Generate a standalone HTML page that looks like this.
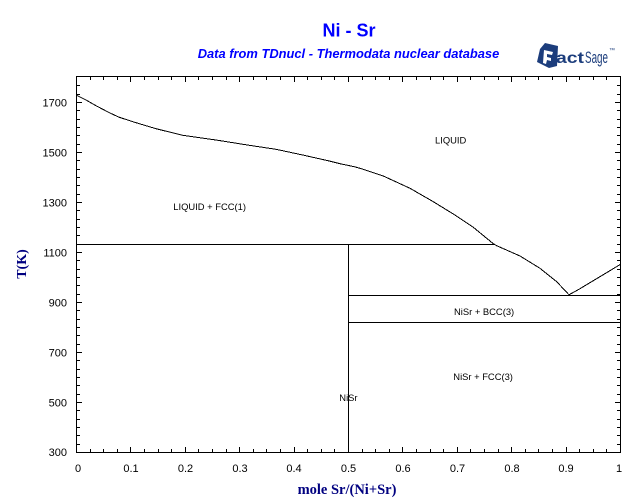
<!DOCTYPE html>
<html>
<head>
<meta charset="utf-8">
<style>
  html, body { margin: 0; padding: 0; background: #ffffff; }
  body { width: 640px; height: 504px; overflow: hidden; }
  svg { display: block; }
  .tick { font-family: "Liberation Sans", Arial, sans-serif; font-size: 11px; fill: #000; }
  .lbl { font-family: "Liberation Sans", Arial, sans-serif; font-size: 9.4px; fill: #000; }
</style>
</head>
<body>
<svg width="640" height="504" viewBox="0 0 640 504" xmlns="http://www.w3.org/2000/svg">
  <rect x="0" y="0" width="640" height="504" fill="#ffffff"/>

  <!-- Titles -->
  <text x="349" y="36.5" text-anchor="middle" font-family="Liberation Sans, Arial, sans-serif" font-weight="bold" font-size="18" fill="#0000ff">Ni - Sr</text>
  <text x="348.5" y="58" text-anchor="middle" font-family="Liberation Sans, Arial, sans-serif" font-weight="bold" font-style="italic" font-size="12.9" fill="#0000ff">Data from TDnucl - Thermodata nuclear database</text>

  <!-- FactSage logo -->
  <g>
    <polygon points="545,43 558,46 557,66 549,68 537,62 540,49" fill="#1c3d7c"/>
    <path d="M544,50 L553,52 L552,55 L547,54 L547,57 L551,58 L551,61 L547,60 L546,64 L543,63 Z" fill="#ffffff"/>
    <text x="556" y="63" font-family="Liberation Sans, Arial, sans-serif" font-weight="bold" font-size="16" fill="#1c3d7c" textLength="28" lengthAdjust="spacingAndGlyphs">act</text>
    <text x="585" y="63" font-family="Liberation Sans, Arial, sans-serif" font-size="17" fill="#1c3d7c" textLength="23" lengthAdjust="spacingAndGlyphs">Sage</text>
    <text x="609" y="52" font-family="Liberation Sans, Arial, sans-serif" font-size="6" fill="#1c3d7c">™</text>
  </g>

  <!-- Ticks as filled rectangles -->
  <g fill="#000" stroke="none" shape-rendering="crispEdges">
    <!-- bottom minor -->
    <path d="M90 449h1v3h-1zM103 449h1v3h-1zM117 449h1v3h-1zM144 449h1v3h-1zM158 449h1v3h-1zM171 449h1v3h-1zM198 449h1v3h-1zM212 449h1v3h-1zM226 449h1v3h-1zM253 449h1v3h-1zM266 449h1v3h-1zM280 449h1v3h-1zM307 449h1v3h-1zM321 449h1v3h-1zM334 449h1v3h-1zM362 449h1v3h-1zM375 449h1v3h-1zM389 449h1v3h-1zM416 449h1v3h-1zM430 449h1v3h-1zM443 449h1v3h-1zM470 449h1v3h-1zM484 449h1v3h-1zM498 449h1v3h-1zM525 449h1v3h-1zM538 449h1v3h-1zM552 449h1v3h-1zM579 449h1v3h-1zM593 449h1v3h-1zM606 449h1v3h-1z"/>
    <!-- bottom major -->
    <path d="M130 447h1v5h-1zM185 447h1v5h-1zM239 447h1v5h-1zM294 447h1v5h-1zM348 447h1v5h-1zM402 447h1v5h-1zM457 447h1v5h-1zM511 447h1v5h-1zM566 447h1v5h-1z"/>
    <!-- top minor -->
    <path d="M90 77h1v3h-1zM103 77h1v3h-1zM117 77h1v3h-1zM144 77h1v3h-1zM158 77h1v3h-1zM171 77h1v3h-1zM198 77h1v3h-1zM212 77h1v3h-1zM226 77h1v3h-1zM253 77h1v3h-1zM266 77h1v3h-1zM280 77h1v3h-1zM307 77h1v3h-1zM321 77h1v3h-1zM334 77h1v3h-1zM362 77h1v3h-1zM375 77h1v3h-1zM389 77h1v3h-1zM416 77h1v3h-1zM430 77h1v3h-1zM443 77h1v3h-1zM470 77h1v3h-1zM484 77h1v3h-1zM498 77h1v3h-1zM525 77h1v3h-1zM538 77h1v3h-1zM552 77h1v3h-1zM579 77h1v3h-1zM593 77h1v3h-1zM606 77h1v3h-1z"/>
    <!-- top major -->
    <path d="M130 77h1v5h-1zM185 77h1v5h-1zM239 77h1v5h-1zM294 77h1v5h-1zM348 77h1v5h-1zM402 77h1v5h-1zM457 77h1v5h-1zM511 77h1v5h-1zM566 77h1v5h-1z"/>
    <!-- left minor -->
    <path d="M77 444h3v1h-3zM77 435h3v1h-3zM77 427h3v1h-3zM77 419h3v1h-3zM77 410h3v1h-3zM77 394h3v1h-3zM77 385h3v1h-3zM77 377h3v1h-3zM77 369h3v1h-3zM77 360h3v1h-3zM77 344h3v1h-3zM77 335h3v1h-3zM77 327h3v1h-3zM77 319h3v1h-3zM77 310h3v1h-3zM77 294h3v1h-3zM77 285h3v1h-3zM77 277h3v1h-3zM77 269h3v1h-3zM77 260h3v1h-3zM77 244h3v1h-3zM77 235h3v1h-3zM77 227h3v1h-3zM77 219h3v1h-3zM77 210h3v1h-3zM77 194h3v1h-3zM77 185h3v1h-3zM77 177h3v1h-3zM77 169h3v1h-3zM77 160h3v1h-3zM77 144h3v1h-3zM77 135h3v1h-3zM77 127h3v1h-3zM77 119h3v1h-3zM77 110h3v1h-3zM77 94h3v1h-3zM77 85h3v1h-3z"/>
    <!-- left major -->
    <path d="M77 402h5v1h-5zM77 352h5v1h-5zM77 302h5v1h-5zM77 252h5v1h-5zM77 202h5v1h-5zM77 152h5v1h-5zM77 102h5v1h-5z"/>
    <!-- right minor -->
    <path d="M617 444h3v1h-3zM617 435h3v1h-3zM617 427h3v1h-3zM617 419h3v1h-3zM617 410h3v1h-3zM617 394h3v1h-3zM617 385h3v1h-3zM617 377h3v1h-3zM617 369h3v1h-3zM617 360h3v1h-3zM617 344h3v1h-3zM617 335h3v1h-3zM617 327h3v1h-3zM617 319h3v1h-3zM617 310h3v1h-3zM617 294h3v1h-3zM617 285h3v1h-3zM617 277h3v1h-3zM617 269h3v1h-3zM617 260h3v1h-3zM617 244h3v1h-3zM617 235h3v1h-3zM617 227h3v1h-3zM617 219h3v1h-3zM617 210h3v1h-3zM617 194h3v1h-3zM617 185h3v1h-3zM617 177h3v1h-3zM617 169h3v1h-3zM617 160h3v1h-3zM617 144h3v1h-3zM617 135h3v1h-3zM617 127h3v1h-3zM617 119h3v1h-3zM617 110h3v1h-3zM617 94h3v1h-3zM617 85h3v1h-3z"/>
    <!-- right major -->
    <path d="M615 402h5v1h-5zM615 352h5v1h-5zM615 302h5v1h-5zM615 252h5v1h-5zM615 202h5v1h-5zM615 152h5v1h-5zM615 102h5v1h-5z"/>
  </g>

  <g shape-rendering="crispEdges" fill="none" stroke="#000" stroke-width="1">
    <!-- Plot frame -->
    <rect x="76.5" y="76.5" width="544" height="376"/>

    <!-- Phase boundaries -->
    <line x1="76.5" y1="244.5" x2="494" y2="244.5"/>
    <line x1="348.5" y1="244.5" x2="348.5" y2="452.5"/>
    <line x1="348.5" y1="295.5" x2="620.5" y2="295.5"/>
    <line x1="348.5" y1="322.5" x2="620.5" y2="322.5"/>

    <!-- Liquidus -->
    <polyline points="76.5,95.3 86,100 96,105.7 109.3,112.7 119.3,117.3 136,122.7 156,128.7 182.7,135.3 216,140 249.3,145.3 276,149.3 302.7,155 329.3,161 340,163.7 354.3,166.7 360,168.3 383.3,176 410,188.3 433.3,201.7 453.3,214 473.3,227.3 493.3,243.7 496.7,245.7 520,256 540,268.3 556.7,281.7 569,294.8 580,288.7 620.5,264.3"/>
  </g>

  <!-- Y tick labels -->
  <g class="tick" text-anchor="end">
    <text x="67" y="106.5">1700</text>
    <text x="67" y="156.5">1500</text>
    <text x="67" y="206.5">1300</text>
    <text x="67" y="256.5">1100</text>
    <text x="67" y="306.5">900</text>
    <text x="67" y="356.5">700</text>
    <text x="67" y="406.5">500</text>
    <text x="67" y="456">300</text>
  </g>

  <!-- X tick labels -->
  <g class="tick" text-anchor="middle">
    <text x="78" y="472">0</text>
    <text x="131" y="472">0.1</text>
    <text x="185.5" y="472">0.2</text>
    <text x="240" y="472">0.3</text>
    <text x="294" y="472">0.4</text>
    <text x="348.5" y="472">0.5</text>
    <text x="403" y="472">0.6</text>
    <text x="457.5" y="472">0.7</text>
    <text x="512" y="472">0.8</text>
    <text x="566" y="472">0.9</text>
    <text x="619" y="472">1</text>
  </g>

  <!-- Axis titles -->
  <text x="347" y="494" text-anchor="middle" font-family="Liberation Serif, Times New Roman, serif" font-weight="bold" font-size="14.5" fill="#000080">mole Sr/(Ni+Sr)</text>
  <text transform="translate(26,264) rotate(-90)" text-anchor="middle" font-family="Liberation Serif, Times New Roman, serif" font-weight="bold" font-size="14" fill="#000080">T(K)</text>

  <!-- Region labels -->
  <g class="lbl">
    <text x="435" y="143.5">LIQUID</text>
    <text x="173.3" y="210">LIQUID + FCC(1)</text>
    <text x="454" y="315">NiSr + BCC(3)</text>
    <text x="453.3" y="380">NiSr + FCC(3)</text>
    <text x="339.3" y="401">NiSr</text>
  </g>
</svg>
</body>
</html>
